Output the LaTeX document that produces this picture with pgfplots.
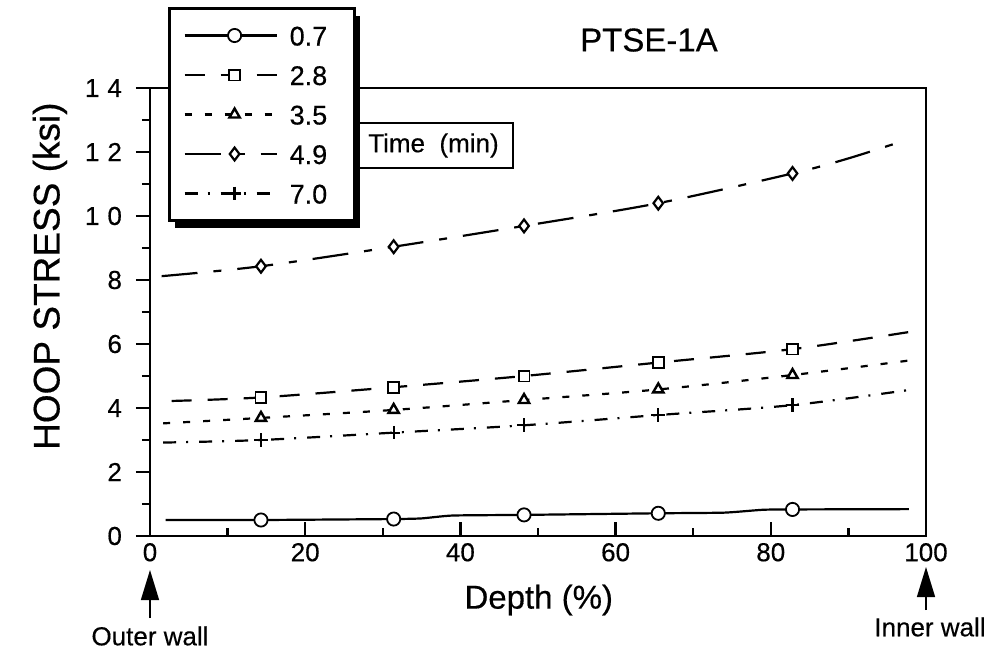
\documentclass[border=0pt]{standalone}
\usepackage{fontspec}
\setmainfont{Liberation Sans}[FakeBold=0.4]
\usepackage{pgfplots}
\pgfplotsset{compat=1.18}
\usetikzlibrary{shadows,arrows.meta}

% keep the legend frame's shadow off the sample lines
\makeatletter
\tikzset{no preactions/.code={\let\tikz@preactions\pgfutil@empty}}
\makeatother

% line styles for the five exposure times
\tikzset{
  s07/.style={black, line width=1.1pt, solid, mark=*, mark size=3.3pt,
              mark options={solid, fill=white, line width=0.9pt}},
  s28/.style={black, line width=1.1pt, dash pattern=on 10pt off 8pt, mark=square*, mark size=2.7pt,
              mark options={solid, fill=white, line width=0.9pt}},
  s35/.style={black, line width=1.1pt, dash pattern=on 3.5pt off 6.5pt, mark=triangle*, mark size=3pt,
              mark options={solid, fill=white, line width=1.2pt}},
  s49/.style={black, line width=1.1pt, dash pattern=on 18pt off 8pt on 4pt off 8pt, mark=diamond*, mark size=3.2pt,
              mark options={solid, fill=white, line width=1.1pt}},
  s70/.style={black, line width=1.1pt, dash pattern=on 6.5pt off 5pt on 1pt off 5.5pt, mark=+, mark size=3.4pt,
              mark options={solid, line width=1.1pt}},
}

\begin{document}
\begin{tikzpicture}
\useasboundingbox (-75pt,-57pt) rectangle (420.5pt,268pt);
\begin{axis}[
  at={(0,0)}, anchor=south west,
  scale only axis, width=388pt, height=224pt,
  xmin=0, xmax=100, ymin=0, ymax=14,
  clip=false,
  xtick={0,20,...,100}, minor xtick={10,30,...,90},
  ytick={0,2,...,14}, minor ytick={1,3,...,13},
  xticklabels={0,20,40,60,80,100},
  yticklabels={0,2,4,6,8,1\kern4pt0,1\kern4pt2,1\kern4pt4},
  xtick pos=left, ytick pos=left,
  xtick align=inside, ytick align=outside,
  major tick length=7pt, minor tick length=4pt,
  tick style={black, line width=1.2pt},
  axis line style={line width=1.3pt},
  ticklabel style={font=\fontsize{13}{15}\selectfont},
  yticklabel style={xshift=-3.5pt},
  xlabel={Depth (\%)},
  ylabel={HOOP STRESS (ksi)},
  xlabel style={at={(axis description cs:0.501,-0.143)}, anchor=center, font=\fontsize{16.5}{19}\selectfont},
  ylabel style={at={(axis description cs:-0.129,0.58)}, anchor=center, font=\fontsize{18.5}{21}\selectfont},
  legend image code/.code={
    \draw[no preactions, #1] (0pt,0pt) -- (46pt,0pt);
    \draw[no preactions, #1] plot coordinates {(25pt,0pt)};
  },
  legend cell align=left,
  legend style={at={(axis description cs:0.0232,1.1808)}, anchor=north west,
    draw=black, line width=1.5pt, fill=white,
    inner xsep=7pt, inner ysep=8.5pt,
    font=\fontsize{13.5}{16}\selectfont,
    /tikz/row sep=9.75pt, /tikz/column sep=6pt,
    nodes={inner sep=0pt, text height=10pt, text depth=0pt},
    drop shadow={shadow xshift=3pt, shadow yshift=-3.5pt, opacity=1, fill=black}},
]

% 0.7 min
\addplot[s07, mark=none, smooth, tension=0.3, forget plot] coordinates {
  (2,0.50) (14.3,0.50) (31.4,0.53) (35,0.55) (39,0.64) (48.2,0.66)
  (65.5,0.71) (74,0.73) (79,0.82) (82.8,0.83) (97.8,0.84)};
\addplot[s07, only marks, forget plot] coordinates {
  (14.3,0.50) (31.4,0.53) (48.2,0.66) (65.5,0.71) (82.8,0.83)};

% 2.8 min
\addplot[s28, mark=none, smooth, forget plot] coordinates {
  (2.8,4.22) (14.3,4.33) (31.4,4.65) (48.2,5.00) (65.5,5.42) (82.8,5.84) (97.7,6.37)};
\addplot[s28, only marks, forget plot] coordinates {
  (14.3,4.33) (31.4,4.65) (48.2,5.00) (65.5,5.42) (82.8,5.84)};

% 3.5 min
\addplot[s35, mark=none, smooth, forget plot] coordinates {
  (1.7,3.52) (14.3,3.69) (31.4,3.94) (48.2,4.25) (65.5,4.58) (82.8,5.03) (97.7,5.48)};
\addplot[s35, only marks, forget plot] coordinates {
  (14.3,3.69) (31.4,3.94) (48.2,4.25) (65.5,4.58) (82.8,5.03)};

% 4.9 min
\addplot[s49, mark=none, smooth, forget plot] coordinates {
  (1.5,8.12) (14.3,8.43) (31.4,9.04) (48.2,9.69) (65.5,10.40) (82.8,11.33) (90,11.80) (97.5,12.38)};
\addplot[s49, only marks, forget plot] coordinates {
  (14.3,8.43) (31.4,9.04) (48.2,9.69) (65.5,10.40) (82.8,11.33)};

% 7.0 min
\addplot[s70, mark=none, smooth, forget plot] coordinates {
  (1.7,2.92) (14.3,3.00) (31.4,3.23) (48.2,3.46) (65.5,3.78) (82.8,4.09) (97.7,4.56)};
\addplot[s70, only marks, forget plot] coordinates {
  (14.3,3.00) (31.4,3.23) (48.2,3.46) (65.5,3.78) (82.8,4.09)};

\addlegendimage{s07}\addlegendentry{0.7\kern6.5pt}
\addlegendimage{s28}\addlegendentry{2.8\kern6.5pt}
\addlegendimage{s35}\addlegendentry{3.5\kern6.5pt}
\addlegendimage{s49}\addlegendentry{4.9\kern6.5pt}
\addlegendimage{s70}\addlegendentry{7.0\kern6.5pt}

% title and key caption
\node[font=\fontsize{16.5}{19}\selectfont] at (axis description cs:0.643,1.107) {PTSE-1A};
\node[draw, fill=white, line width=0.7pt, minimum width=79.5pt, minimum height=22.5pt,
      font=\fontsize{13}{15}\selectfont] at (axis description cs:0.3653,0.8717) {Time\ \ (min)};

% wall markers
\draw[line width=0.7pt, -{Triangle[length=15pt,width=9pt]}]
  ([yshift=-41pt]axis cs:0,0) -- ([yshift=-17pt]axis cs:0,0);
\node[font=\fontsize{13}{15}\selectfont] at ([yshift=-50pt]axis cs:0,0) {Outer wall};
\draw[line width=0.7pt, -{Triangle[length=15pt,width=9pt]}]
  ([yshift=-37pt]axis cs:100,0) -- ([yshift=-15.5pt]axis cs:100,0);
\node[font=\fontsize{13}{15}\selectfont] at ([xshift=2pt,yshift=-45.5pt]axis cs:100,0) {Inner wall};
\end{axis}
\end{tikzpicture}
\end{document}
